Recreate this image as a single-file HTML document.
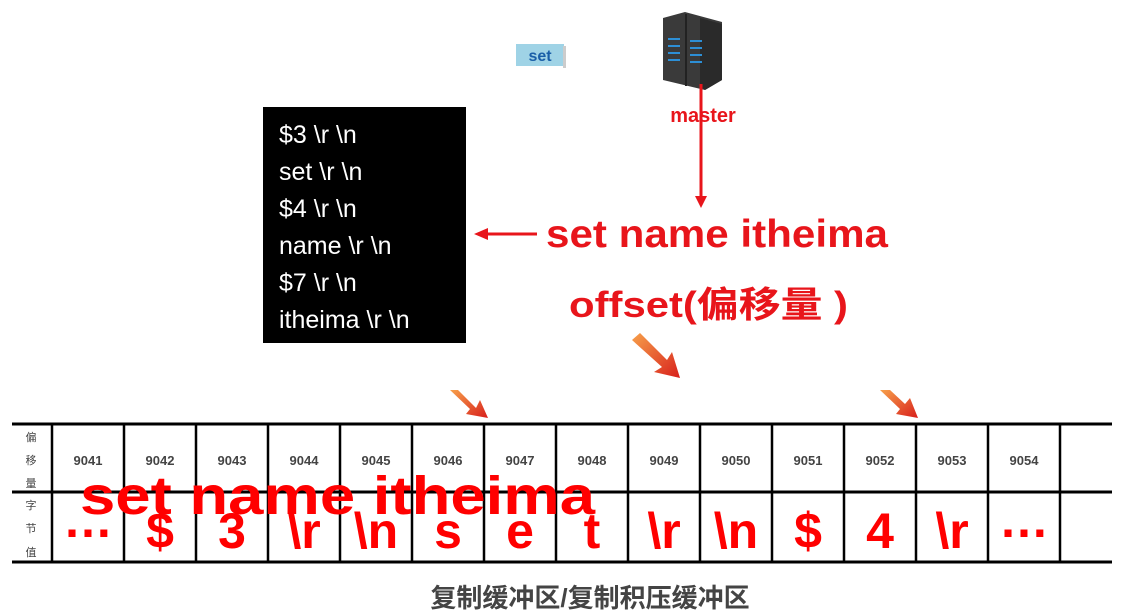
<!DOCTYPE html>
<html><head><meta charset="utf-8"><style>
html,body{margin:0;padding:0;background:#fff;}
svg{display:block;}
</style></head><body>
<svg width="1138" height="616" viewBox="0 0 1138 616" xmlns="http://www.w3.org/2000/svg">
<defs>
<linearGradient id="ag" x1="0" y1="0" x2="1" y2="1"><stop offset="0" stop-color="#f7a04a"/><stop offset="1" stop-color="#d8201c"/></linearGradient>
</defs>
<rect x="516" y="44" width="48" height="22" fill="#9fd3e6"/>
<rect x="563" y="46" width="3" height="22" fill="#ccc"/>
<text x="540" y="61" font-family="Liberation Sans, sans-serif" font-weight="bold" font-size="16" fill="#1a5fa8" text-anchor="middle">set</text>
<!-- server -->
<polygon points="663,18 685,12 722,22 722,80 705,90 663,80" fill="#3a3a3a"/>
<polygon points="700,18 722,24 722,80 705,90 700,86" fill="#2a2a2a"/>
<line x1="686" y1="14" x2="686" y2="86" stroke="#222" stroke-width="2"/>
<g fill="#2d8fd6">
<rect x="668" y="38" width="12" height="2"/><rect x="668" y="45" width="12" height="2"/><rect x="668" y="52" width="12" height="2"/><rect x="668" y="59" width="12" height="2"/>
<rect x="690" y="40" width="12" height="2"/><rect x="690" y="47" width="12" height="2"/><rect x="690" y="54" width="12" height="2"/><rect x="690" y="61" width="12" height="2"/>
</g>
<text x="703" y="122" font-family="Liberation Sans, sans-serif" font-weight="bold" font-size="20" fill="#e8151b" text-anchor="middle">master</text>
<line x1="701" y1="84" x2="701" y2="198" stroke="#e8151b" stroke-width="3"/>
<polygon points="695,196 707,196 701,208" fill="#e8151b"/>
<rect x="263" y="107" width="203" height="236" fill="#000"/>
<g font-family="Liberation Sans, sans-serif" font-size="25" fill="#fff">
<text x="279" y="143">$3 \r \n</text>
<text x="279" y="180">set \r \n</text>
<text x="279" y="217">$4 \r \n</text>
<text x="279" y="254">name \r \n</text>
<text x="279" y="291">$7 \r \n</text>
<text x="279" y="328">itheima \r \n</text>
</g>
<line x1="486" y1="234" x2="537" y2="234" stroke="#e8151b" stroke-width="3"/>
<polygon points="474,234 488,228 488,240" fill="#e8151b"/>
<text x="546" y="247" font-family="Liberation Sans, sans-serif" font-weight="bold" font-size="39" fill="#e8151b" textLength="342" lengthAdjust="spacingAndGlyphs">set name itheima</text>
<text x="569" y="317" font-family="Liberation Sans, 'Noto Sans CJK SC', sans-serif" font-weight="bold" font-size="36" fill="#e8151b" textLength="279" lengthAdjust="spacingAndGlyphs">offset(偏移量 )</text>
<g fill="url(#ag)">
<polygon points="632,340 640,333 667,360 672,352 680,378 654,372 662,367"/>
<polygon points="450,390 458,390 476,408 480,400 488,418 466,414 470,409" />
<polygon points="880,390 890,390 905,404 910,398 918,418 896,414 900,409" />
</g>
<g stroke="#000" stroke-width="3">
<line x1="12" y1="424" x2="1112" y2="424"/>
<line x1="12" y1="492" x2="1112" y2="492"/>
<line x1="12" y1="562" x2="1112" y2="562"/>
</g>
<g stroke="#000" stroke-width="2.5">
<line x1="52" y1="424" x2="52" y2="562"/><line x1="124" y1="424" x2="124" y2="562"/>
<line x1="196" y1="424" x2="196" y2="562"/><line x1="268" y1="424" x2="268" y2="562"/>
<line x1="340" y1="424" x2="340" y2="562"/><line x1="412" y1="424" x2="412" y2="562"/>
<line x1="484" y1="424" x2="484" y2="562"/><line x1="556" y1="424" x2="556" y2="562"/>
<line x1="628" y1="424" x2="628" y2="562"/><line x1="700" y1="424" x2="700" y2="562"/>
<line x1="772" y1="424" x2="772" y2="562"/><line x1="844" y1="424" x2="844" y2="562"/>
<line x1="916" y1="424" x2="916" y2="562"/><line x1="988" y1="424" x2="988" y2="562"/>
<line x1="1060" y1="424" x2="1060" y2="562"/>
</g>
<g font-family="'Noto Sans CJK SC', sans-serif" font-size="11" fill="#444" text-anchor="middle">
<text x="31" y="441">偏</text><text x="31" y="464">移</text><text x="31" y="487">量</text>
<text x="31" y="509">字</text><text x="31" y="532">节</text><text x="31" y="556">值</text>
</g>
<g font-family="Liberation Sans, sans-serif" font-weight="bold" font-size="13" fill="#444" text-anchor="middle">
<text x="88" y="465">9041</text><text x="160" y="465">9042</text><text x="232" y="465">9043</text><text x="304" y="465">9044</text>
<text x="376" y="465">9045</text><text x="448" y="465">9046</text><text x="520" y="465">9047</text><text x="592" y="465">9048</text>
<text x="664" y="465">9049</text><text x="736" y="465">9050</text><text x="808" y="465">9051</text><text x="880" y="465">9052</text>
<text x="952" y="465">9053</text><text x="1024" y="465">9054</text>
</g>
<g font-family="Liberation Sans, sans-serif" font-weight="bold" font-size="50" fill="#ff0000" text-anchor="middle">
<text x="88" y="537">…</text><text x="160" y="548">$</text><text x="232" y="548">3</text><text x="304" y="548">\r</text>
<text x="376" y="548">\n</text><text x="448" y="548">s</text><text x="520" y="548">e</text><text x="592" y="548">t</text>
<text x="664" y="548">\r</text><text x="736" y="548">\n</text><text x="808" y="548">$</text><text x="880" y="548">4</text>
<text x="952" y="548">\r</text><text x="1024" y="537">…</text>
</g>
<text x="80" y="514" font-family="Liberation Sans, sans-serif" font-weight="bold" font-size="54" fill="#ff0000" textLength="515" lengthAdjust="spacingAndGlyphs">set  name  itheima</text>
<text x="590" y="607" font-family="Liberation Sans, 'Noto Sans CJK SC', sans-serif" font-weight="bold" font-size="26" fill="#444" text-anchor="middle">复制缓冲区/复制积压缓冲区</text>
</svg>
</body></html>
